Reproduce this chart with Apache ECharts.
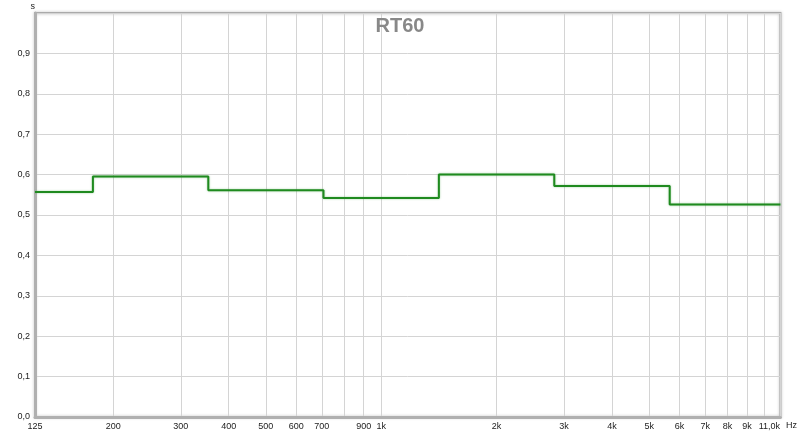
<!DOCTYPE html>
<html>
<head>
<meta charset="utf-8">
<script src="https://cdn.jsdelivr.net/npm/echarts@6/dist/echarts.min.js"></script>
<style>
html,body{margin:0;padding:0;background:#fff;}
#c{width:800px;height:436px;}
</style>
</head>
<body>
<div id="c"></div>
<script>
// Octave band edges (Hz) and RT60 values (s)
var bandEdges = [125, 177, 354, 707, 1414, 2828, 5657, 11000];
var rt60Values = [0.557, 0.595, 0.561, 0.542, 0.600, 0.572, 0.526];
// Axis ticks
var xGridFreqs = [125, 200, 300, 400, 500, 600, 700, 800, 900, 1000, 2000, 3000, 4000, 5000, 6000, 7000, 8000, 9000, 10000, 11000];
var xLabelFreqs = [125, 200, 300, 400, 500, 600, 700, 900, 1000, 2000, 3000, 4000, 5000, 6000, 7000, 8000, 9000, 11000];
var xLabelTexts = ['125', '200', '300', '400', '500', '600', '700', '900', '1k', '2k', '3k', '4k', '5k', '6k', '7k', '8k', '9k', '11,0k'];
var fMin = 125, fMax = 11000;

function lg(f) { return Math.log10(f); }

var points = [];
for (var i = 0; i < rt60Values.length; i++) {
  points.push([lg(bandEdges[i]), rt60Values[i]]);
}
points.push([lg(bandEdges[bandEdges.length - 1]), rt60Values[rt60Values.length - 1]]);

var labelMap = {};
xLabelFreqs.forEach(function (f, i) { labelMap[lg(f).toFixed(6)] = xLabelTexts[i]; });

var chart = echarts.init(document.getElementById('c'), null, { renderer: 'canvas' });
var font = 'Liberation Sans, Arial, sans-serif';
chart.setOption({
  animation: false,
  backgroundColor: '#fff',
  title: {
    text: 'RT60',
    left: 'center',
    top: 11,
    textStyle: { fontFamily: font, fontSize: 20, fontWeight: 'bold', color: '#888' }
  },
  grid: {
    left: 35, right: 18, top: 13, bottom: 19,
    show: true,
    borderColor: '#aaa',
    borderWidth: 2,
    shadowColor: 'rgba(0,0,0,0.25)',
    shadowBlur: 3
  },
  xAxis: {
    type: 'value',
    min: lg(fMin),
    max: lg(fMax),
    name: 'Hz',
    nameLocation: 'end',
    nameGap: 1,
    nameTextStyle: { fontFamily: font, fontSize: 9, color: '#222', verticalAlign: 'top', padding: [4, 0, 0, 0] },
    axisLine: { show: true, lineStyle: { color: '#b0b0b0', width: 3 } },
    axisTick: { show: false, customValues: xGridFreqs.map(lg) },
    splitLine: { show: true, lineStyle: { color: '#d4d4d4', width: 1 } },
    axisLabel: {
      customValues: xLabelFreqs.map(lg),
      fontFamily: font, fontSize: 9, color: '#222', margin: 5,
      formatter: function (v) {
        var t = labelMap[v.toFixed(6)] || '';
        if (t === '11,0k') return '{r|' + t + '}';
        return t;
      },
      rich: { r: { fontFamily: font, fontSize: 9, color: '#222', padding: [0, 22, 0, 0] } }
    }
  },
  yAxis: {
    type: 'value',
    min: 0, max: 1, interval: 0.1,
    name: 's',
    nameLocation: 'end',
    nameGap: 2,
    nameTextStyle: { fontFamily: font, fontSize: 9, color: '#222', align: 'right', padding: [0, 0, 0, 0] },
    axisLine: { show: true, lineStyle: { color: '#b0b0b0', width: 3 } },
    axisTick: { show: false },
    splitLine: { show: true, lineStyle: { color: '#d4d4d4', width: 1 } },
    axisLabel: {
      fontFamily: font, fontSize: 9, color: '#222', margin: 5,
      formatter: function (v) {
        if (Math.abs(v - 1) < 1e-9) return '';
        return v.toFixed(1).replace('.', ',');
      }
    }
  },
  series: [{
    type: 'line',
    step: 'end',
    data: points,
    symbol: 'none',
    lineStyle: { color: '#1f8a1f', width: 2, shadowColor: 'rgba(60,160,60,0.5)', shadowBlur: 2 },
    z: 3
  }]
});
</script>
</body>
</html>
